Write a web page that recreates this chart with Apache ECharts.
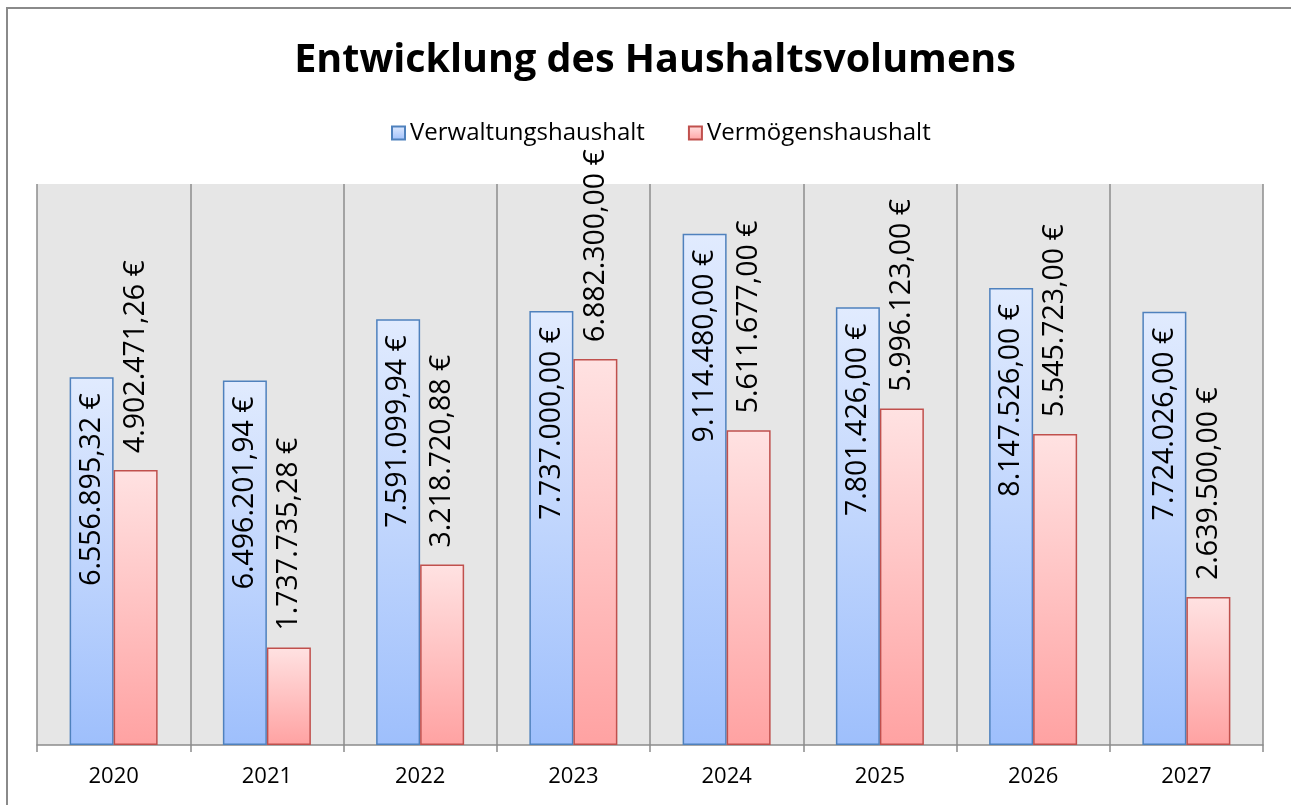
<!DOCTYPE html>
<html>
<head>
<meta charset="utf-8">
<script src="https://cdn.jsdelivr.net/npm/echarts@6/dist/echarts.min.js"></script>
<style>
	html, body { margin: 0; padding: 0; background: #fff; }
	#main { width: 1291px; height: 805px; }
</style>
</head>
<body>
<div id="main"></div>
<script>
const years = ['2020', '2021', '2022', '2023', '2024', '2025', '2026', '2027']
const verwaltung = [6556895.32, 6496201.94, 7591099.94, 7737000.00, 9114480.00, 7801426.00, 8147526.00, 7724026.00]
const vermoegen = [4902471.26, 1737735.28, 3218720.88, 6882300.00, 5611677.00, 5996123.00, 5545723.00, 2639500.00]

const font = '"Open Sans", sans-serif'

// deutsches Zahlenformat: 1.234.567,89 €
const fmtEuro = (v) => {
	const parts = v.toFixed(2).split('.')
	const int = parts[0].replace(/\B(?=(\d{3})+(?!\d))/g, '.')
	return int + ',' + parts[1] + ' €'
}

const chart = echarts.init(document.getElementById('main'))

const option = {
	animation: false,
	title: {
		text: 'Entwicklung des Haushaltsvolumens',
		left: 650,
		textAlign: 'center',
		top: 36,
		textStyle: { fontFamily: font, fontWeight: 'bold', fontSize: 39.5, color: '#000' }
	},
	legend: {
		top: 116,
		left: 386,
		icon: 'rect',
		itemWidth: 13,
		itemHeight: 13,
		itemGap: 43,
		textStyle: { fontFamily: font, fontSize: 24, color: '#000' },
		data: ['Verwaltungshaushalt', 'Vermögenshaushalt']
	},
	graphic: [
		{
			type: 'rect',
			shape: { x: 7, y: 8, width: 1400, height: 900 },
			style: { fill: 'none', stroke: '#8a8a8a', lineWidth: 2 },
			silent: true
		}
	],
	grid: {
		left: 37,
		right: 28,
		top: 184,
		bottom: 60,
		show: true,
		backgroundColor: '#e6e6e6',
		borderWidth: 0
	},
	xAxis: {
		type: 'category',
		data: years,
		axisLine: { lineStyle: { color: '#8c8c8c', width: 1.5 } },
		axisTick: { show: true, length: 7, lineStyle: { color: '#8c8c8c', width: 1.5 } },
		splitLine: { show: true, lineStyle: { color: '#8c8c8c', width: 1.5 } },
		axisLabel: { fontFamily: font, fontSize: 22, color: '#000', margin: 21 }
	},
	yAxis: {
		type: 'value',
		min: 0,
		max: 10000000,
		show: false,
		splitLine: { show: false }
	},
	series: [
		{
			name: 'Verwaltungshaushalt',
			type: 'bar',
			barWidth: 44,
			barGap: '0%',
			data: verwaltung,
			itemStyle: {
				color: new echarts.graphic.LinearGradient(0, 0, 0, 1, [
					{ offset: 0, color: '#e1ebfe' },
					{ offset: 1, color: '#9ebffc' }
				]),
				borderColor: '#4f81bd',
				borderWidth: 1.5
			},
			label: {
				show: true,
				position: 'insideTop',
				rotate: 90,
				align: 'right',
				verticalAlign: 'middle',
				distance: 16,
				fontFamily: font,
				fontSize: 28.5,
				color: '#000',
				formatter: (p) => fmtEuro(p.value)
			}
		},
		{
			name: 'Vermögenshaushalt',
			type: 'bar',
			barWidth: 44,
			data: vermoegen,
			itemStyle: {
				color: new echarts.graphic.LinearGradient(0, 0, 0, 1, [
					{ offset: 0, color: '#ffe2e2' },
					{ offset: 1, color: '#ffa2a2' }
				]),
				borderColor: '#c0504d',
				borderWidth: 1.5
			},
			label: {
				show: true,
				position: 'top',
				rotate: 90,
				align: 'left',
				verticalAlign: 'middle',
				distance: 17,
				fontFamily: font,
				fontSize: 28.5,
				color: '#000',
				formatter: (p) => fmtEuro(p.value)
			}
		}
	]
}

chart.setOption(option)
</script>
</body>
</html>
